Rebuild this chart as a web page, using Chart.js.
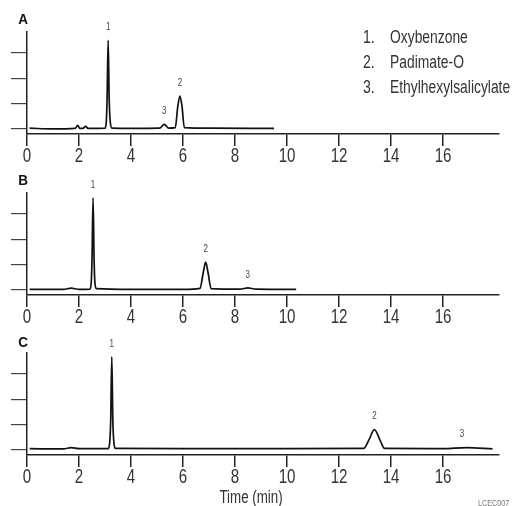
<!DOCTYPE html>
<html>
<head>
<meta charset="utf-8">
<script src="https://cdn.jsdelivr.net/npm/chart.js@4.4.0/dist/chart.umd.min.js"></script>
<style>
  body { margin: 0; background: #fff; }
  #wrap { position: relative; width: 515px; height: 506px; overflow: hidden; }
  canvas { position: absolute; left: 0; }
</style>
</head>
<body>
<div id="wrap">
  <canvas id="cA" width="515" height="175" style="top:0px"></canvas>
  <canvas id="cB" width="515" height="175" style="top:161px"></canvas>
  <canvas id="cC" width="515" height="185" style="top:321px"></canvas>
</div>
<script>
const FONT = "'Liberation Sans', Arial, sans-serif";
const NARROW = 0.72; // horizontal squeeze, the original uses a condensed face

// axis ticks
const xTicks = [0, 2, 4, 6, 8, 10, 12, 14, 16];
const yTicks = [0, 1, 2, 3];

// legend
const peakNames = ["Oxybenzone", "Padimate-O", "Ethylhexylsalicylate"];
const peakNumbers = ["1", "2", "3"];

// chromatogram A
const timeA = [0.1, 1.0, 1.85, 1.95, 2.03, 2.15, 2.25, 2.35, 3.0, 3.05, 3.08, 3.12, 3.16, 3.2, 3.27,
  4.0, 5.1, 5.28, 5.45, 5.7, 5.8, 5.88, 5.96, 6.05, 7.0, 9.5];
const signalA = [0.03, 0.0, 0.02, 0.14, 0.02, 0.02, 0.1, 0.02, 0.03, 0.3, 1.2, 3.5, 1.2, 0.3, 0.03,
  0.02, 0.03, 0.18, 0.03, 0.05, 0.9, 1.3, 0.9, 0.05, 0.03, 0.02];
const peakTimeA = [3.12, 5.88, 5.28];
const peakHeightA = [3.5, 1.3, 0.18];

// chromatogram B
const timeB = [0.1, 1.4, 1.7, 2.0, 2.42, 2.47, 2.5, 2.54, 2.58, 2.61, 2.67, 4.0, 6.0, 6.65, 6.78, 6.87,
  6.96, 7.08, 8.2, 8.49, 8.8, 10.35];
const signalB = [0.02, 0.02, 0.07, 0.02, 0.03, 0.3, 1.2, 3.64, 1.2, 0.3, 0.05, 0.02, 0.02, 0.06, 0.7, 1.1,
  0.7, 0.05, 0.03, 0.08, 0.03, 0.02];
const peakTimeB = [2.54, 6.87, 8.49];
const peakHeightB = [3.64, 1.1, 0.08];

// chromatogram C
const timeC = [0.1, 1.4, 1.7, 2.0, 3.12, 3.18, 3.22, 3.26, 3.3, 3.34, 3.4, 6.0, 10.0, 12.95, 13.15, 13.36,
  13.57, 13.75, 16.0, 16.9, 17.9];
const signalC = [0.05, 0.04, 0.09, 0.05, 0.05, 0.3, 1.2, 3.68, 1.2, 0.3, 0.06, 0.05, 0.05, 0.06, 0.4, 0.8,
  0.4, 0.06, 0.05, 0.09, 0.04];
const peakTimeC = [3.26, 13.36, 16.73];
const peakHeightC = [3.68, 0.8, 0.09];

function pairs(xs, ys) {
  return xs.map((x, i) => ({ x: x, y: ys[i] }));
}

// draw text squeezed horizontally
function text(ctx, str, x, y, align, sx) {
  ctx.save();
  ctx.translate(x, y);
  ctx.scale(sx, 1);
  ctx.textAlign = align;
  ctx.fillText(str, 0, 0);
  ctx.restore();
}

function makeChart(id, letter, letterY, times, signal, peakTimes, peakHeights, extra) {
  const canvas = document.getElementById(id);
  const axisH = canvas.height - 134;

  const annotate = {
    id: "annotate" + letter,
    afterDraw(chart) {
      const ctx = chart.ctx;
      const xs = chart.scales.x, ys = chart.scales.y;
      ctx.save();
      ctx.textBaseline = "middle";
      // x tick labels
      ctx.fillStyle = "#333";
      ctx.font = "21px " + FONT;
      xs.ticks.forEach((t) => {
        text(ctx, String(t.value), xs.getPixelForValue(t.value), chart.chartArea.bottom + 22, "center", NARROW);
      });
      // panel letter
      ctx.fillStyle = "#111";
      ctx.font = "bold 15px " + FONT;
      text(ctx, letter, 28, letterY, "right", 0.9);
      // peak numbers
      ctx.fillStyle = "#444";
      ctx.font = "10px " + FONT;
      peakTimes.forEach((t, i) => {
        text(ctx, peakNumbers[i], xs.getPixelForValue(t), ys.getPixelForValue(peakHeights[i]) - 13, "center", 0.8);
      });
      if (extra) extra(ctx);
      ctx.restore();
    }
  };

  return new Chart(canvas, {
    type: "line",
    data: {
      datasets: [{
        data: pairs(times, signal),
        borderColor: "#111",
        borderWidth: 1.7,
        pointRadius: 0,
        fill: false,
        cubicInterpolationMode: "monotone"
      }]
    },
    options: {
      responsive: false,
      animation: false,
      devicePixelRatio: 1,
      layout: { padding: { top: 32, right: 16, left: 0, bottom: 0 } },
      plugins: { legend: { display: false }, tooltip: { enabled: false } },
      scales: {
        x: {
          type: "linear",
          min: 0,
          max: 18.15,
          afterBuildTicks: (s) => { s.ticks = xTicks.map((v) => ({ value: v })); },
          afterFit: (s) => { s.height = axisH; },
          grid: { drawOnChartArea: false, tickLength: 12, color: "#222", lineWidth: 1.5 },
          border: { color: "#222", width: 1.5 },
          ticks: { display: false }
        },
        y: {
          min: -0.2,
          max: 3.83,
          afterBuildTicks: (s) => { s.ticks = yTicks.map((v) => ({ value: v })); },
          afterFit: (s) => { s.width = 27; },
          grid: { drawOnChartArea: false, tickLength: 16, color: "#444", lineWidth: 1.2 },
          border: { color: "#222", width: 1.5 },
          ticks: { display: false }
        }
      }
    },
    plugins: [annotate]
  });
}

makeChart("cA", "A", 20, timeA, signalA, peakTimeA, peakHeightA, (ctx) => {
  ctx.fillStyle = "#333";
  ctx.font = "18px " + FONT;
  peakNames.forEach((name, i) => {
    text(ctx, peakNumbers[i] + ".", 363, 38 + i * 25, "left", 0.78);
    text(ctx, name, 390, 38 + i * 25, "left", 0.77);
  });
});
makeChart("cB", "B", 20, timeB, signalB, peakTimeB, peakHeightB, null);
makeChart("cC", "C", 22, timeC, signalC, peakTimeC, peakHeightC, (ctx) => {
  ctx.fillStyle = "#333";
  ctx.font = "18px " + FONT;
  text(ctx, "Time (min)", 251, 177, "center", 0.74);
  ctx.fillStyle = "#777";
  ctx.font = "9px " + FONT;
  text(ctx, "LCEC007", 478, 183, "left", 0.8);
});
</script>
</body>
</html>
